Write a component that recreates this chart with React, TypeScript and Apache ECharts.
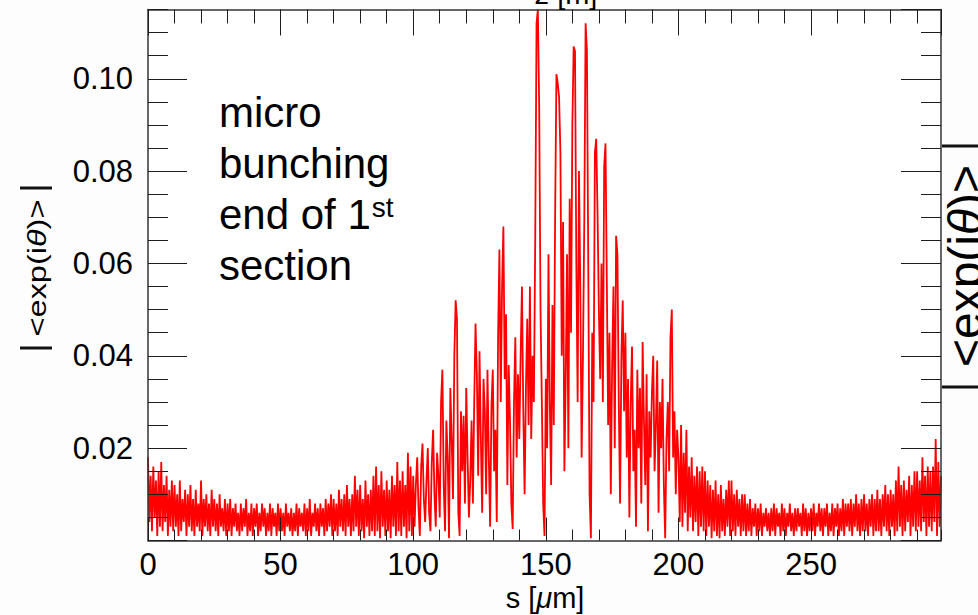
import React, { useEffect, useRef } from 'react';
import * as echarts from 'echarts';

// sample spacing along s (µm)
const S_STEP = 0.5;
const X_TICKS = [0, 50, 100, 150, 200, 250];
const Y_TICKS = [0.02, 0.04, 0.06, 0.08, 0.1];

// |<exp(iθ)>|, in units of 1e-3, 0.5 µm apart
const bunching0to50 = [
  18, 4, 14, 2, 16, 5, 13, 1, 15, 3,
  17, 2, 12, 4, 14, 1, 11, 3, 13, 2,
  12, 3, 10, 1, 13, 2, 9, 4, 11, 1,
  10, 3, 12, 2, 9, 1, 11, 3, 8, 2,
  13, 1, 9, 3, 10, 2, 8, 1, 11, 3,
  9, 2, 8, 1, 10, 3, 7, 2, 9, 1,
  8, 2, 9, 1, 7, 3, 8, 2, 6, 1,
  8, 2, 7, 3, 9, 1, 6, 2, 8, 1,
  7, 3, 8, 1, 6, 2, 8, 3, 7, 1,
  6, 2, 8, 1, 7, 3, 6, 1, 8, 2,
];
const bunching50to100 = [
  7, 2, 6, 1, 8, 3, 6, 2, 7, 1,
  6, 2, 8, 1, 7, 3, 6, 2, 8, 1,
  7, 2, 9, 1, 6, 3, 8, 2, 7, 1,
  8, 3, 7, 1, 9, 2, 8, 3, 10, 1,
  9, 2, 8, 1, 11, 3, 9, 2, 10, 1,
  12, 3, 9, 1, 10, 2, 14, 3, 11, 1,
  12, 2, 9, 0.5, 13, 3, 10, 1, 11, 2,
  14, 1, 16, 2, 12, 0.5, 15, 3, 11, 1,
  13, 2, 11, 0.5, 14, 3, 12, 1, 17, 2,
  13, 1, 15, 3, 12, 0.5, 19, 2, 16, 1,
];
const bunching100to150 = [
  14, 3, 12, 18, 7, 1, 16, 21, 9, 4,
  13, 20, 6, 2, 17, 24, 10, 3, 19, 14,
  5, 30, 37, 12, 2, 26, 18, 0.5, 33, 22,
  9, 40, 52, 48, 6, 1, 28, 15, 27, 8,
  33, 18, 5, 13, 26, 8, 30, 47, 36, 14,
  41, 22, 6, 35, 28, 10, 37, 18, 3, 29,
  37, 15, 24, 4, 44, 63, 30, 55, 68, 35,
  49, 12, 38, 26, 8, 2.5, 30, 44, 18, 36,
  22, 40, 55, 28, 10, 33, 48, 25, 55, 22,
  40, 30, 65, 112, 115, 94, 50, 30, 8, 1,
];
const bunching150to200 = [
  35, 20, 62, 30, 12, 51, 25, 70, 101, 99,
  96, 84, 40, 69, 15, 35, 62, 20, 74, 45,
  90, 107, 106, 60, 30, 80, 55, 18, 40, 69,
  112, 106, 60, 10, 0.5, 45, 30, 84, 87, 71,
  50, 35, 60, 30, 81, 86, 56, 25, 45, 10,
  38, 55, 20, 66, 62, 30, 8, 40, 52, 28,
  45, 18, 35, 5, 30, 42, 15, 24, 3, 37,
  20, 33, 8, 43, 26, 12, 36, 2, 28, 18,
  32, 40, 15, 25, 39, 6, 30, 20, 35, 12,
  0.5, 22, 30, 15, 44, 50, 18, 28, 10, 24,
];
const bunching200to250 = [
  18, 4, 25, 3, 19, 6, 24, 2, 16, 5,
  18, 2, 14, 4, 16, 1, 15, 3, 16, 2,
  15, 1, 13, 3, 12, 0.5, 11, 2, 13, 1,
  10, 0.5, 12, 2, 9, 1, 11, 3, 13, 1,
  13, 2, 10, 1, 11, 3, 9, 1, 10, 2,
  10, 1, 8, 2, 9, 1, 7, 3, 8, 1,
  7, 2, 8, 1, 6, 3, 7, 2, 6, 1,
  7, 2, 8, 1, 7, 3, 6, 1, 8, 2,
  7, 1, 6, 3, 8, 2, 6, 1, 7, 2,
  7, 3, 6, 1, 8, 2, 7, 1, 6, 2,
];
const bunching250to299 = [
  7, 2, 8, 1, 6, 3, 8, 2, 7, 1,
  7, 3, 8, 1, 6, 2, 8, 1, 7, 3,
  8, 1, 7, 2, 9, 1, 8, 3, 8, 2,
  9, 1, 8, 3, 10, 2, 8, 1, 9, 2,
  10, 2, 8, 1, 9, 3, 10, 1, 9, 2,
  11, 2, 9, 1, 10, 3, 12, 2, 10, 1,
  11, 3, 10, 1, 13, 2, 16, 3, 12, 1,
  13, 2, 11, 4, 14, 1, 12, 3, 15, 2,
  15, 3, 13, 2, 18, 4, 14, 1, 16, 3,
  15, 2, 16, 4, 22, 1, 17, 3, 14,
];

const FONT = '"Liberation Sans", Arial, Helvetica, sans-serif';
const TICK = '#1e1e1e';

export default function App() {
  const ref = useRef<HTMLDivElement>(null);

  useEffect(() => {
    if (!ref.current) return;
    const chart = echarts.init(ref.current, undefined, { renderer: 'svg' });

    const all = [
      ...bunching0to50,
      ...bunching50to100,
      ...bunching100to150,
      ...bunching150to200,
      ...bunching200to250,
      ...bunching250to299,
    ];
    const data = all.map((v, i) => [i * S_STEP, v / 1000]);

    const xMin = 0;
    const xMax = 299;
    const yMin = 0;
    const yMax = 0.115;

    const tickAxis = (extra: any) => ({
      type: 'value',
      offset: 0,
      splitLine: { show: false },
      minorTick: { show: false },
      z: 5,
      ...extra,
    });
    const frameLine = { show: true, onZero: false, lineStyle: { color: '#333', width: 1.5 } };
    const noLine = { show: false, onZero: false };

    const option: any = {
      animation: false,
      backgroundColor: '#fdfdfd',
      textStyle: { fontFamily: FONT },
      grid: {
        left: 148,
        right: 37,
        top: 9.5,
        bottom: 74.5,
        show: true,
        backgroundColor: '#ffffff',
        borderWidth: 0,
      },
      xAxis: [
        tickAxis({
          position: 'bottom',
          min: xMin,
          max: xMax,
          interval: 50,
          axisLine: frameLine,
          axisTick: { show: true, inside: true, length: 23, lineStyle: { color: TICK, width: 1 } },
          axisLabel: {
            show: true,
            fontSize: 31,
            color: '#000',
            fontFamily: FONT,
            margin: 8,
            showMaxLabel: false,
            formatter: (v: number) =>
              X_TICKS.some((t) => Math.abs(t - v) < 1e-6) ? String(Math.round(v)) : '',
          },
        }),
        tickAxis({
          position: 'bottom',
          min: xMin,
          max: xMax,
          interval: 10,
          axisLine: noLine,
          axisTick: { show: true, inside: true, length: 11, lineStyle: { color: TICK, width: 1 } },
          axisLabel: { show: false },
        }),
        tickAxis({
          position: 'top',
          min: xMin,
          max: xMax,
          interval: 50,
          axisLine: frameLine,
          axisTick: { show: true, inside: true, length: 26, lineStyle: { color: TICK, width: 1 } },
          axisLabel: { show: false },
        }),
        tickAxis({
          position: 'top',
          min: xMin,
          max: xMax,
          interval: 10,
          axisLine: noLine,
          axisTick: { show: true, inside: true, length: 14, lineStyle: { color: TICK, width: 1 } },
          axisLabel: { show: false },
        }),
      ],
      yAxis: [
        tickAxis({
          position: 'left',
          min: yMin,
          max: yMax,
          interval: 0.02,
          axisLine: frameLine,
          axisTick: { show: true, inside: true, length: 39, lineStyle: { color: TICK, width: 1 } },
          axisLabel: {
            show: true,
            fontSize: 31,
            color: '#000',
            fontFamily: FONT,
            margin: 15,
            showMaxLabel: false,
            formatter: (v: number) =>
              Y_TICKS.some((t) => Math.abs(t - v) < 1e-7) ? v.toFixed(2) : '',
          },
        }),
        tickAxis({
          position: 'left',
          min: yMin,
          max: yMax,
          interval: 0.005,
          axisLine: noLine,
          axisTick: { show: true, inside: true, length: 20, lineStyle: { color: TICK, width: 1 } },
          axisLabel: { show: false },
        }),
        tickAxis({
          position: 'right',
          min: yMin,
          max: yMax,
          interval: 0.02,
          axisLine: frameLine,
          axisTick: { show: true, inside: true, length: 40, lineStyle: { color: TICK, width: 1 } },
          axisLabel: { show: false },
        }),
        tickAxis({
          position: 'right',
          min: yMin,
          max: yMax,
          interval: 0.005,
          axisLine: noLine,
          axisTick: { show: true, inside: true, length: 20, lineStyle: { color: TICK, width: 1 } },
          axisLabel: { show: false },
        }),
      ],
      series: [
        {
          type: 'line',
          xAxisIndex: 0,
          yAxisIndex: 0,
          data,
          showSymbol: false,
          symbol: 'none',
          clip: true,
          z: 2,
          lineStyle: { color: '#ff0000', width: 1.8, join: 'miter', miterLimit: 2 },
          itemStyle: { color: '#ff0000' },
        },
      ],
      graphic: [
        {
          type: 'text',
          x: 219,
          y: 87,
          z: 10,
          style: {
            text: 'micro\nbunching\nend of 1{sup|st}\nsection',
            fontSize: 42,
            fontFamily: FONT,
            lineHeight: 51,
            fill: '#000',
            rich: {
              sup: {
                fontSize: 28,
                fontFamily: FONT,
                lineHeight: 28,
                verticalAlign: 'top',
                padding: [4, 0, 0, 1],
                fill: '#000',
              },
            },
          },
        },
        {
          type: 'text',
          x: 566,
          y: -6,
          z: 10,
          style: {
            text: 'z [m]',
            fontSize: 29,
            fontFamily: FONT,
            fill: '#000',
            textAlign: 'center',
            textVerticalAlign: 'middle',
          },
        },
        {
          type: 'text',
          x: 545,
          y: 598,
          z: 10,
          style: {
            text: '{n|s [}{it|μ}{n|m]}',
            fontSize: 29,
            fontFamily: FONT,
            fill: '#000',
            textAlign: 'center',
            textVerticalAlign: 'middle',
            rich: {
              n: { fontSize: 29, fontFamily: FONT, fill: '#000' },
              it: { fontSize: 29, fontFamily: FONT, fontStyle: 'italic', fill: '#000' },
            },
          },
        },
        // left y-axis title |<exp(iθ)>|
        {
          type: 'line',
          z: 10,
          shape: { x1: 20, y1: 188, x2: 52, y2: 188 },
          style: { stroke: '#111', lineWidth: 3 },
        },
        {
          type: 'line',
          z: 10,
          shape: { x1: 20, y1: 348, x2: 52, y2: 348 },
          style: { stroke: '#111', lineWidth: 3 },
        },
        {
          type: 'text',
          x: 37,
          y: 268,
          rotation: Math.PI / 2,
          scaleX: 1.25,
          z: 10,
          style: {
            text: '{n|<exp(i}{it|θ}{n|)>}',
            fontSize: 26,
            fontFamily: FONT,
            fill: '#000',
            textAlign: 'center',
            textVerticalAlign: 'middle',
            rich: {
              n: { fontSize: 26, fontFamily: FONT, fill: '#000' },
              it: { fontSize: 26, fontFamily: FONT, fontStyle: 'italic', fill: '#000' },
            },
          },
        },
        // neighbouring panel's label, cut off at the right edge
        {
          type: 'line',
          z: 10,
          shape: { x1: 942, y1: 146, x2: 980, y2: 146 },
          style: { stroke: '#111', lineWidth: 3 },
        },
        {
          type: 'line',
          z: 10,
          shape: { x1: 942, y1: 387, x2: 980, y2: 387 },
          style: { stroke: '#111', lineWidth: 3 },
        },
        {
          type: 'text',
          x: 941,
          y: 266,
          rotation: Math.PI / 2,
          z: 10,
          style: {
            text: '{n|<exp(i}{it|θ}{n|)>}',
            fontSize: 48,
            fontFamily: FONT,
            fill: '#000',
            textAlign: 'center',
            textVerticalAlign: 'top',
            rich: {
              n: { fontSize: 48, fontFamily: FONT, fill: '#000' },
              it: { fontSize: 48, fontFamily: FONT, fontStyle: 'italic', fill: '#000' },
            },
          },
        },
      ],
    };

    chart.setOption(option);
    return () => chart.dispose();
  }, []);

  return (
    <div
      ref={ref}
      style={{ position: 'fixed', left: 0, top: 0, width: 978, height: 615 }}
    />
  );
}
